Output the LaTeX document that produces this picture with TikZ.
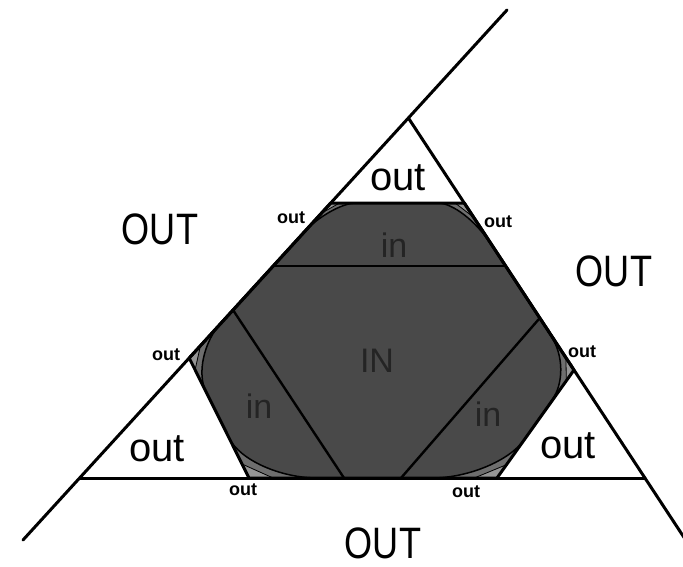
\documentclass[tikz,border=0pt]{standalone}
\usepackage{fontspec}
\setmainfont{Liberation Sans}
\usetikzlibrary{calc}
\definecolor{LightFill}{HTML}{959595}
\definecolor{MidFill}{HTML}{6E6E6E}
\definecolor{DarkFill}{HTML}{494949}
\definecolor{InText}{HTML}{242424}

\begin{document}
\begin{tikzpicture}[x=1pt, y=-1pt,
            border/.style={line width=3pt, line cap=round, line join=round},
            chord/.style={line width=2.4pt, line cap=round},
            bigout/.style={font=\fontsize{44}{44}\selectfont, inner sep=0pt},
            smallout/.style={font=\fontsize{40}{40}\selectfont, inner sep=0pt},
            inlabel/.style={font=\fontsize{34}{34}\selectfont, text=InText, inner sep=0pt},
            tinyout/.style={font=\fontsize{18}{18}\bfseries\selectfont, inner sep=0pt}
        ]
            \useasboundingbox (0,0) rectangle (683,566);

            \coordinate (Lbot) at (23,540);
            \coordinate (Ltop) at (507,10);
            \coordinate (apex) at (408.4,118);
            \coordinate (Rend) at (685.7,540);
            \coordinate (bl) at (79.6,478);
            \coordinate (br) at (645,478);

            \coordinate (h1) at (330.7,203);
            \coordinate (h2) at (464.3,203);
            \coordinate (h3) at (574,370);
            \coordinate (h4) at (497,478);
            \coordinate (h5) at (249,478);
            \coordinate (h6) at (189.2,358);

            \coordinate (la) at (221.5,322);
            \coordinate (lb) at (303,233);
            \coordinate (ta) at (356,203);
            \coordinate (tb) at (438,203);
            \coordinate (ra) at (490,243);
            \coordinate (rb) at (551,336);
            \coordinate (sa) at (552,400);
            \coordinate (sb) at (524,440);
            \coordinate (ba) at (432,478);
            \coordinate (bb) at (318,478);
            \coordinate (wa) at (229,438);
            \coordinate (wb) at (206,392);

            \coordinate (c1) at (273.2,266);
            \coordinate (c2) at (505.7,266);
            \coordinate (c3) at (539.8,318);
            \coordinate (c4) at (401,478);
            \coordinate (c5) at (344,478);
            \coordinate (c6) at (233,310);

            \fill[LightFill] (h1) -- (h2) -- (h3) -- (h4) -- (h5) -- (h6) -- cycle;

            \filldraw[fill=MidFill, draw=black, line width=0.8pt]
                (la) -- (lb) -- ($(lb)!.65!(h1)$) -- ($(ta)!.65!(h1)$)
                -- (ta) -- (tb) -- ($(tb)!.65!(h2)$) -- ($(ra)!.65!(h2)$)
                -- (ra) -- (rb) -- ($(rb)!.65!(h3)$) -- ($(sa)!.65!(h3)$)
                -- (sa) -- (sb) -- ($(sb)!.65!(h4)$) -- ($(ba)!.65!(h4)$)
                -- (ba) -- (bb) -- ($(bb)!.65!(h5)$) -- ($(wa)!.65!(h5)$)
                -- (wa) -- (wb) -- ($(wb)!.65!(h6)$) -- ($(la)!.65!(h6)$) -- cycle;

            \filldraw[fill=DarkFill, draw=black, line width=1.5pt]
                (la) -- (lb) .. controls ($(lb)!.55!(h1)$) and ($(ta)!.55!(h1)$) .. (ta)
                -- (tb) .. controls ($(tb)!.55!(h2)$) and ($(ra)!.55!(h2)$) .. (ra)
                -- (rb) .. controls ($(rb)!.55!(h3)$) and ($(sa)!.55!(h3)$) .. (sa)
                -- (sb) .. controls ($(sb)!.55!(h4)$) and ($(ba)!.55!(h4)$) .. (ba)
                -- (bb) .. controls ($(bb)!.55!(h5)$) and ($(wa)!.55!(h5)$) .. (wa)
                -- (wb) .. controls ($(wb)!.55!(h6)$) and ($(la)!.55!(h6)$) .. (la) -- cycle;

            \draw[chord] (c1) -- (c2);
            \draw[chord] (c3) -- (c4);
            \draw[chord] (c5) -- (c6);

            \draw[border] (h1) -- (h2) -- (h3) -- (h4) -- (h5) -- (h6) -- cycle;

            \draw[border] (Lbot) -- (Ltop);
            \draw[border] (apex) -- (Rend);
            \draw[border] (bl) -- (br);

            \node[bigout] (outnw) at (160,229) {\scalebox{0.82}[1]{OUT}};
            \node[bigout] (oute) at (614,271) {\scalebox{0.82}[1]{OUT}};
            \node[bigout] (outs) at (383,543) {\scalebox{0.82}[1]{OUT}};

            \node[smallout] (cornertop) at (398,178) {out};
            \node[smallout] (cornerleft) at (157,449) {out};
            \node[smallout] (cornerright) at (568,446) {out};

            \node[inlabel] (captop) at (394,245) {in};
            \node[inlabel] (capleft) at (259,406) {in};
            \node[inlabel] (capright) at (488,414) {in};
            \node[inlabel] (core) at (377,361) {IN};

            \node[tinyout] (tip1) at (291,218) {out};
            \node[tinyout] (tip2) at (498,222) {out};
            \node[tinyout] (tip3) at (582,352) {out};
            \node[tinyout] (tip4) at (466,492) {out};
            \node[tinyout] (tip5) at (243,490) {out};
            \node[tinyout] (tip6) at (166,355) {out};

        \end{tikzpicture}
\end{document}
